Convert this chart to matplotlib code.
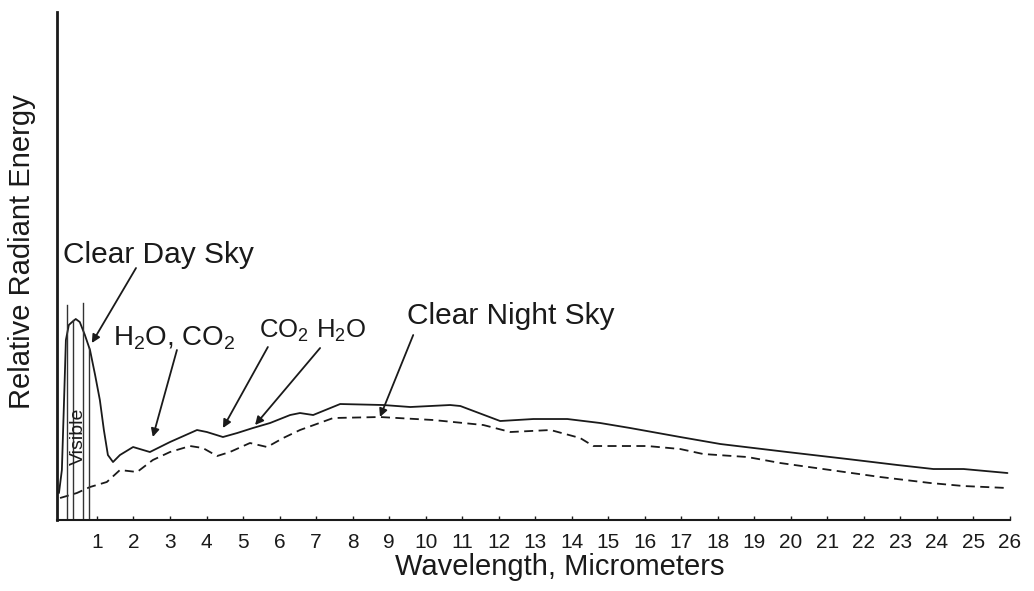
import matplotlib
matplotlib.use("Agg")
import matplotlib.pyplot as plt

plt.rcParams['font.family'] = ['Liberation Sans', 'DejaVu Sans']
plt.rcParams['mathtext.fontset'] = 'custom'
plt.rcParams['mathtext.rm'] = 'Liberation Sans'
plt.rcParams['mathtext.it'] = 'Liberation Sans:italic'
plt.rcParams['mathtext.bf'] = 'Liberation Sans:bold'

# ---- data (wavelength in micrometers, relative energy in arbitrary units) ----
day_wavelength = [-0.04, 0.04, 0.10, 0.15, 0.23, 0.32, 0.42, 0.53, 0.67, 0.81, 0.95,
                  1.08, 1.19, 1.30, 1.44, 1.63, 1.99, 2.45, 3.00, 3.74, 4.01, 4.45,
                  4.84, 5.27, 5.74, 6.29, 6.56, 6.92, 7.66, 8.84, 9.58, 10.67, 10.95,
                  12.04, 12.95, 13.88, 14.78, 15.60, 16.97, 18.07, 19.90, 21.55,
                  22.92, 23.90, 24.73, 25.93]
day_energy = [27, 50, 120, 180, 195, 198, 201, 198, 185, 170, 145,
              120, 90, 65, 58, 65, 73, 68, 78, 90, 88, 83,
              87, 92, 97, 105, 107, 105, 116, 115, 113, 115, 114,
              99, 101, 101, 97, 92, 83, 76, 68, 61,
              55, 51, 51, 47]

night_wavelength = [-0.01, 0.45, 0.81, 1.27, 1.63, 2.10, 2.53, 3.00, 3.55, 3.90, 4.29,
                    4.64, 5.19, 5.66, 6.10, 6.56, 7.47, 8.75, 10.21, 11.58, 12.32,
                    13.42, 14.23, 14.59, 16.07, 16.97, 17.60, 18.81, 19.71, 21.08,
                    22.45, 23.82, 24.73, 25.93]
night_energy = [22, 27, 33, 38, 50, 48, 60, 68, 74, 72, 64,
                68, 77, 73, 82, 90, 102, 103, 100, 95, 88,
                90, 82, 74, 74, 71, 66, 63, 57, 50,
                43, 37, 34, 32]

tick_values = list(range(1, 27))
tick_labels = [str(v) for v in tick_values]

# visible band outline lines: (wavelength, top)
visible_lines_x = [0.18, 0.34, 0.62, 0.78]
visible_lines_top = [215, 200, 217, 172]

fig = plt.figure(figsize=(10.34, 5.91), dpi=100)
ax = fig.add_axes([0.0556, 0.1201, 0.9212, 0.8596])
ink = '#1a1a1a'

ax.plot(day_wavelength, day_energy, color=ink, lw=1.3, solid_capstyle='round')
ax.plot(night_wavelength, night_energy, color=ink, lw=1.3, linestyle=(0, (5, 3)))

for vx, vt in zip(visible_lines_x, visible_lines_top):
    ax.plot([vx, vx], [0, vt], color='#333333', lw=1.0)

ax.text(0.48, 84, 'Visible', rotation=90, fontsize=14, ha='center', va='center',
        color=ink)

ax.set_xlim(-0.08, 26.0)
ax.set_ylim(0, 508)
ax.set_xticks(tick_values)
ax.set_xticklabels(tick_labels)
ax.set_yticks([])
ax.tick_params(axis='x', direction='in', length=3, width=1, pad=9,
               labelsize=15, colors=ink)
for s in ['top', 'right']:
    ax.spines[s].set_visible(False)
ax.spines['left'].set_linewidth(2.0)
ax.spines['bottom'].set_linewidth(1.5)
ax.spines['left'].set_color(ink)
ax.spines['bottom'].set_color(ink)

ax.set_xlabel('Wavelength, Micrometers', fontsize=21, color=ink)
ax.xaxis.set_label_coords(0.5276, -0.064)
ax.set_ylabel('Relative Radiant Energy', fontsize=21, color=ink)
ax.yaxis.set_label_coords(-0.0226, 0.5276)

arrow_kw = dict(arrowstyle='-|>', color=ink, lw=1.3, mutation_scale=12,
                shrinkA=0, shrinkB=0)

ax.text(0.07, 257, 'Clear Day Sky', fontsize=21.5, ha='left', va='baseline', color=ink)
ax.annotate('', xy=(0.86, 177), xytext=(2.07, 252), arrowprops=arrow_kw)

ax.text(1.44, 175, r'H$_2$O, CO$_2$', fontsize=20, ha='left', va='baseline', color=ink)
ax.annotate('', xy=(2.53, 83), xytext=(3.19, 170), arrowprops=arrow_kw)

ax.text(5.45, 182, r'CO$_2$', fontsize=18.5, ha='left', va='baseline', color=ink)
ax.annotate('', xy=(4.45, 92), xytext=(5.68, 173), arrowprops=arrow_kw)

ax.text(7.00, 182, r'H$_2$O', fontsize=18.5, ha='left', va='baseline', color=ink)
ax.annotate('', xy=(5.33, 95), xytext=(7.11, 172), arrowprops=arrow_kw)

ax.text(9.49, 196, 'Clear Night Sky', fontsize=21.5, ha='left', va='baseline', color=ink)
ax.annotate('', xy=(8.75, 103), xytext=(9.66, 185), arrowprops=arrow_kw)

fig.savefig('out.png', dpi=100)
